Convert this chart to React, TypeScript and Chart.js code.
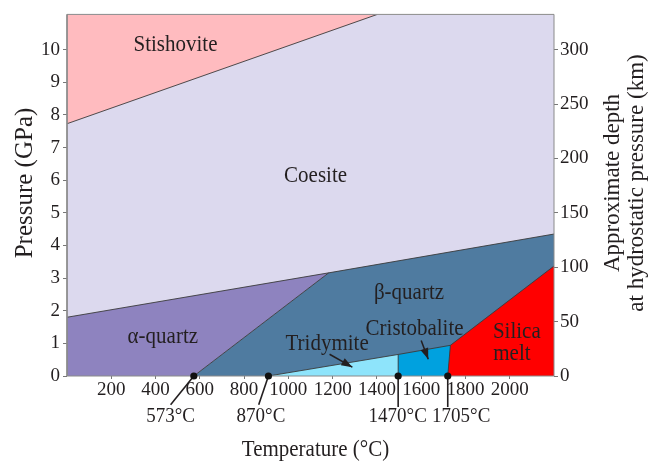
import React, { useEffect, useRef } from 'react';
import { Chart, registerables } from 'chart.js';

Chart.register(...registerables);

type Pt = [number, number];

// ---- axes ----
const T_MIN = 0;
const T_MAX = 2200;
const P_MIN = 0;
const P_MAX = 11.08;
const KM_PER_GPA = 30;
const tempTicks = [200, 400, 600, 800, 1000, 1200, 1400, 1600, 1800, 2000];
const pressureTicks = [0, 1, 2, 3, 4, 5, 6, 7, 8, 9, 10];
const depthTicks = [0, 50, 100, 150, 200, 250, 300];

// ---- phase regions (T in °C, P in GPa) ----
const coesiteRegion: Pt[] = [[0, 0], [2200, 0], [2200, 11.08], [0, 11.08]];
const stishoviteRegion: Pt[] = [[0, 7.73], [1402, 11.08], [0, 11.08]];
const betaQuartzRegion: Pt[] = [[573, 0], [2200, 0], [2200, 4.35], [1182, 3.16]];
const alphaQuartzRegion: Pt[] = [[0, 0], [573, 0], [1182, 3.16], [0, 1.8]];
const tridymiteRegion: Pt[] = [[910, 0], [1496, 0], [1496, 0.66]];
const cristobaliteRegion: Pt[] = [[1496, 0], [1720, 0], [1732, 0.94], [1496, 0.66]];
const meltRegion: Pt[] = [[1720, 0], [2200, 0], [2200, 3.37], [1732, 0.94]];

// ---- phase boundaries ----
const stishoviteBoundary: Pt[] = [[0, 7.73], [1402, 11.08]];
const coesiteBoundary: Pt[] = [[0, 1.8], [1182, 3.16], [2200, 4.35]];
const alphaBetaBoundary: Pt[] = [[573, 0], [1182, 3.16]];
const highTBoundary: Pt[] = [[910, 0], [1496, 0.66], [1732, 0.94], [2200, 3.37]];
const tridCristBoundary: Pt[] = [[1496, 0], [1496, 0.66]];
const cristMeltBoundary: Pt[] = [[1720, 0], [1732, 0.94]];

// ---- transition temperatures at 0 GPa ----
const transitionT = [573, 910, 1496, 1720];
const transitionLabels = ['573°C', '870°C', '1470°C', '1705°C'];
const leaderEndT = [468, 866, 1496, 1720];
const leaderEndP = [-0.88, -0.88, -0.95, -0.95];
const transitionLabelT = [468, 876, 1494, 1781];
const transitionLabelP = [-1.25, -1.25, -1.25, -1.25];

// ---- region labels ----
const regionLabels = ['Stishovite', 'Coesite', 'α-quartz', 'β-quartz', 'Tridymite', 'Cristobalite', 'Silica', 'melt'];
const regionLabelT = [490, 1123, 433, 1545, 1175, 1570, 2032, 2010];
const regionLabelP = [10.15, 6.14, 1.19, 2.55, 0.99, 1.44, 1.34, 0.69];

// ---- arrows ----
const arrowFrom: Pt[] = [[1186, 0.667], [1600, 1.09]];
const arrowTo: Pt[] = [[1289, 0.27], [1632, 0.515]];

const FONT = "'Liberation Serif', 'Times New Roman', serif";
const INK = '#231f20';
const V_STRETCH = 1.1;

const toXY = (pts: Pt[]) => pts.map(([x, y]) => ({ x, y }));

function hText(ctx: CanvasRenderingContext2D, s: string, x: number, y: number) {
  ctx.save();
  ctx.translate(x, y);
  ctx.scale(1, V_STRETCH);
  ctx.fillText(s, 0, 0);
  ctx.restore();
}

const textPlugin = {
  id: 'textPlugin',
  afterDraw(chart: any) {
    const ctx = chart.ctx as CanvasRenderingContext2D;
    const xs = chart.scales.x;
    const ys = chart.scales.y;
    const px = (t: number) => xs.getPixelForValue(t);
    const py = (p: number) => ys.getPixelForValue(p);
    ctx.save();
    ctx.fillStyle = INK;
    ctx.strokeStyle = INK;
    ctx.textAlign = 'center';
    ctx.textBaseline = 'middle';

    // arrow heads
    arrowFrom.forEach((f, i) => {
      const t = arrowTo[i];
      const x0 = px(f[0]), y0 = py(f[1]);
      const x1 = px(t[0]), y1 = py(t[1]);
      const ang = Math.atan2(y1 - y0, x1 - x0);
      const L = 11, Wd = 4;
      ctx.beginPath();
      ctx.moveTo(x1, y1);
      ctx.lineTo(x1 - L * Math.cos(ang) + Wd * Math.sin(ang), y1 - L * Math.sin(ang) - Wd * Math.cos(ang));
      ctx.lineTo(x1 - L * Math.cos(ang) - Wd * Math.sin(ang), y1 - L * Math.sin(ang) + Wd * Math.cos(ang));
      ctx.closePath();
      ctx.fill();
    });

    ctx.font = `21px ${FONT}`;
    regionLabels.forEach((s, i) => {
      hText(ctx, s, px(regionLabelT[i]), py(regionLabelP[i]));
    });

    ctx.font = `19px ${FONT}`;
    transitionLabels.forEach((s, i) => {
      hText(ctx, s, px(transitionLabelT[i]), py(transitionLabelP[i]));
    });

    // axis titles
    const area = chart.chartArea;
    ctx.font = `21px ${FONT}`;
    hText(ctx, 'Temperature (°C)', (area.left + area.right) / 2 + 5, 450);

    ctx.save();
    ctx.font = `25px ${FONT}`;
    ctx.translate(25, 183);
    ctx.rotate(-Math.PI / 2);
    ctx.fillText('Pressure (GPa)', 0, 0);
    ctx.restore();

    ctx.save();
    ctx.font = `23px ${FONT}`;
    ctx.translate(613, 183);
    ctx.rotate(-Math.PI / 2);
    ctx.fillText('Approximate depth', 0, 0);
    ctx.fillText('at hydrostatic pressure (km)', 0, 24);
    ctx.restore();

    ctx.restore();
  },
};

export default function App() {
  const ref = useRef<HTMLCanvasElement | null>(null);

  useEffect(() => {
    if (!ref.current) return;

    const region = (pts: Pt[], color: string, order: number) => ({
      type: 'line' as const,
      data: toXY(pts),
      fill: 'shape',
      backgroundColor: color,
      borderColor: 'transparent',
      borderWidth: 0,
      pointRadius: 0,
      tension: 0,
      order,
    });
    const boundary = (pts: Pt[], order: number) => ({
      type: 'line' as const,
      data: toXY(pts),
      fill: false,
      borderColor: '#3b3b3b',
      borderWidth: 0.9,
      pointRadius: 0,
      tension: 0,
      order,
    });
    const annot = (pts: Pt[], width: number, order: number) => ({
      type: 'line' as const,
      data: toXY(pts),
      fill: false,
      borderColor: INK,
      borderWidth: width,
      pointRadius: 0,
      tension: 0,
      clip: false as any,
      order,
    });

    const frame: Pt[] = [[T_MIN, P_MIN], [T_MAX, P_MIN], [T_MAX, P_MAX], [T_MIN, P_MAX], [T_MIN, P_MIN]];

    const datasets: any[] = [
      region(coesiteRegion, '#dcd9ee', 100),
      region(stishoviteRegion, '#ffbbbf', 99),
      region(betaQuartzRegion, '#4f7ba0', 98),
      region(alphaQuartzRegion, '#8e83bf', 97),
      region(tridymiteRegion, '#8ee4fb', 96),
      region(cristobaliteRegion, '#00a1df', 95),
      region(meltRegion, '#ff0000', 94),
      boundary(stishoviteBoundary, 50),
      boundary(coesiteBoundary, 49),
      boundary(alphaBetaBoundary, 48),
      boundary(highTBoundary, 47),
      boundary(tridCristBoundary, 46),
      boundary(cristMeltBoundary, 45),
      {
        type: 'line',
        data: toXY(frame),
        fill: false,
        borderColor: '#8a8a8a',
        borderWidth: 1,
        pointRadius: 0,
        clip: false,
        order: 40,
      },
      ...transitionT.map((t, i) => annot([[t, 0], [leaderEndT[i], leaderEndP[i]]], 1.6, 20)),
      ...arrowFrom.map((f, i) => annot([f, arrowTo[i]], 1.5, 20)),
      {
        type: 'scatter',
        data: transitionT.map((t) => ({ x: t, y: 0 })),
        pointRadius: 3.6,
        pointBackgroundColor: '#111',
        pointBorderWidth: 0,
        clip: false,
        order: 1,
      },
    ];

    const tickFont = { family: FONT, size: 19 };
    const plain = (v: any) => String(v);

    const chart = new Chart(ref.current, {
      type: 'line',
      data: { datasets },
      options: {
        animation: false,
        responsive: false,
        maintainAspectRatio: false,
        layout: { padding: { top: 10, left: 0, right: 0, bottom: 0 } },
        plugins: { legend: { display: false }, tooltip: { enabled: false } },
        scales: {
          x: {
            type: 'linear',
            min: T_MIN,
            max: T_MAX,
            afterFit(s: any) { s.height = 89; },
            afterBuildTicks(s: any) { s.ticks = tempTicks.map((v) => ({ value: v })); },
            grid: { drawOnChartArea: false, tickLength: 3, color: '#777' },
            border: { display: false },
            ticks: { font: tickFont, color: INK, padding: 0, maxRotation: 0, autoSkip: false, callback: plain },
          },
          y: {
            type: 'linear',
            position: 'left',
            min: P_MIN,
            max: P_MAX,
            afterFit(s: any) { s.width = 67; },
            afterBuildTicks(s: any) { s.ticks = pressureTicks.map((v) => ({ value: v })); },
            grid: { drawOnChartArea: false, tickLength: 4, color: '#777' },
            border: { display: false },
            ticks: { font: tickFont, color: INK, padding: 3, autoSkip: false, callback: plain },
          },
          y2: {
            type: 'linear',
            position: 'right',
            min: P_MIN * KM_PER_GPA,
            max: P_MAX * KM_PER_GPA,
            afterFit(s: any) { s.width = 95; },
            afterBuildTicks(s: any) { s.ticks = depthTicks.map((v) => ({ value: v })); },
            grid: { drawOnChartArea: false, tickLength: 4, color: '#777' },
            border: { display: false },
            ticks: { font: tickFont, color: INK, padding: 2, autoSkip: false, callback: plain },
          },
        },
      } as any,
      plugins: [textPlugin],
    });

    return () => chart.destroy();
  }, []);

  return (
    <div style={{ position: 'absolute', left: 0, top: 0, width: 649, height: 465, background: '#fff' }}>
      <canvas ref={ref} width={649} height={465} style={{ display: 'block' }} />
    </div>
  );
}
